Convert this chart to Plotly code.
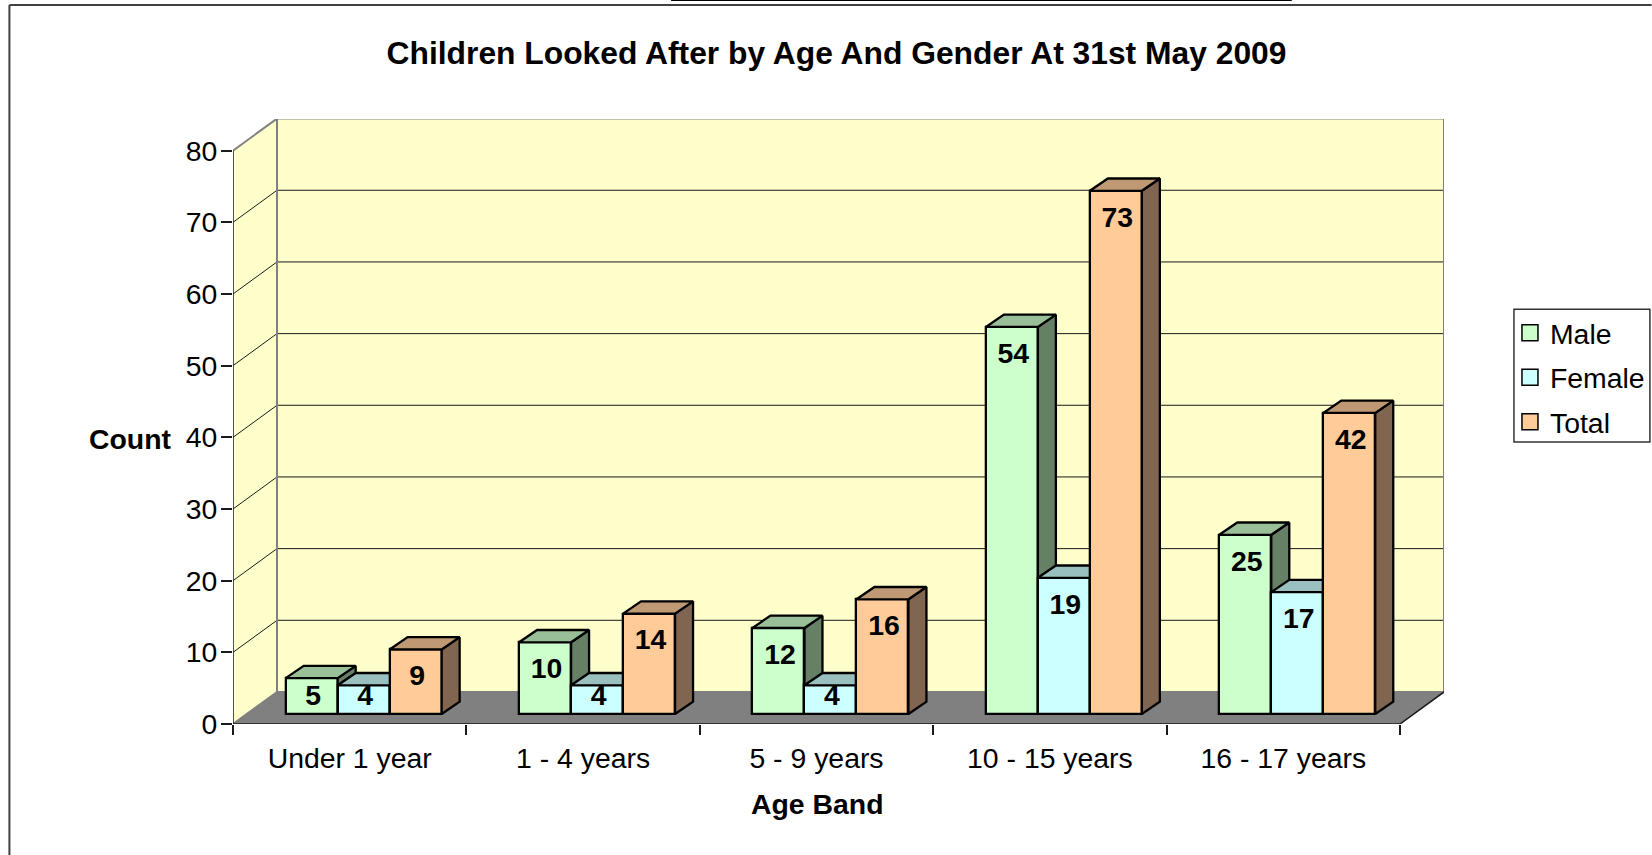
import plotly.graph_objects as go

categories = ["Under 1 year", "1 - 4 years", "5 - 9 years", "10 - 15 years", "16 - 17 years"]
male = [5, 10, 12, 54, 25]
female = [4, 4, 4, 19, 17]
total = [9, 14, 16, 73, 42]
y_ticks = [0, 10, 20, 30, 40, 50, 60, 70, 80]

FONT = "Liberation Sans"
FS = 28.4
W, H = 1652, 855
PL, PR, PT, PB = 232.7, 1444.3, 119.3, 723.7
CAT_PX = 233.46
UNIT_PX = 7.16
N = len(categories)
WX = 44 / CAT_PX
WY = 32 / UNIT_PX
BX0 = 14 / CAT_PX
BY0 = 10 / UNIT_PX
BW = 52 / CAT_PX
GAP = 38.7 / CAT_PX
DX = 18 / CAT_PX
DY = 12.3 / UNIT_PX
XR = [0, N + WX]
YR = [0, (PB - PT) / UNIT_PX]
YMAX = y_ticks[-1]

def px(x):
    return (x - PL) / (PR - PL)

def py(y):
    return (PB - y) / (PB - PT)

fig = go.Figure()

def lines(segments, color, width, xa="x", ya="y"):
    xs, ys = [], []
    for seg in segments:
        xs += [p[0] for p in seg] + [None]
        ys += [p[1] for p in seg] + [None]
    fig.add_trace(go.Scatter(x=xs, y=ys, mode="lines", line=dict(color=color, width=width),
                             cliponaxis=False, showlegend=False, hoverinfo="skip", xaxis=xa, yaxis=ya))

# walls and floor
shapes = [
    dict(type="path", xref="x", yref="y", layer="below", line_width=0, fillcolor="#FFFFCC",
         path=f"M0,0 L{WX},{WY} L{N+WX},{WY} L{N+WX},{YMAX+WY} L{WX},{YMAX+WY} L0,{YMAX} Z"),
    dict(type="path", xref="x", yref="y", layer="below", line_width=0, fillcolor="#808080",
         path=f"M0,0 L{WX},{WY} L{N+WX},{WY} L{N},0 Z"),
    # page frame
    dict(type="line", xref="paper", yref="paper", x0=px(9), x1=px(W), y0=py(5.5), y1=py(5.5),
         line=dict(color="#404040", width=2)),
    dict(type="line", xref="paper", yref="paper", x0=px(9), x1=px(9), y0=py(5.5), y1=py(H),
         line=dict(color="#404040", width=2)),
    dict(type="line", xref="paper", yref="paper", x0=px(671), x1=px(1292), y0=py(0.5), y1=py(0.5),
         line=dict(color="black", width=2)),
    # legend box
    dict(type="rect", xref="paper", yref="paper", x0=px(1514.3), x1=px(1650.3), y0=py(309.3), y1=py(442),
         line=dict(color="#333333", width=1.5), fillcolor="white"),
]

# gridlines
lines([[(0, v), (WX, v + WY), (N + WX, v + WY)] for v in y_ticks[1:-1]], "#1a1a1a", 1)
# wall borders
lines([[(0, 0), (WX, WY), (WX, YMAX + WY), (N + WX, YMAX + WY), (N + WX, WY), (WX, WY)],
       [(0, YMAX), (WX, YMAX + WY)]], "#808080", 2)
# axes lines
lines([[(0, 0), (0, YMAX)], [(0, 0), (N, 0), (N + WX, WY)]], "#1a1a1a", 1.5)

# legend entries
series = [
    ("Male", male, "#CCFFCC", "#99BF99", "#668066", 0),
    ("Female", female, "#CCFFFF", "#99BFBF", "#668080", 1),
    ("Total", total, "#FFCC99", "#BF9973", "#806650", 2),
]

for name, vals, front, top, side, k in series:
    sfx = str(k + 2)
    xa, ya = "x" + sfx, "y" + sfx
    lefts = [i + BX0 + GAP + k * BW for i in range(N)]
    fig.add_trace(go.Bar(x=[l + BW / 2 for l in lefts], y=vals, base=BY0, width=BW, name=name,
                         marker=dict(color=front, line=dict(color="black", width=2.3)),
                         showlegend=False, hoverinfo="skip", xaxis=xa, yaxis=ya))
    tx, ty, sx, sy = [], [], [], []
    for l, v in zip(lefts, vals):
        h = BY0 + v
        tx += [l, l + DX, l + BW + DX, l + BW, l, None]
        ty += [h, h + DY, h + DY, h, h, None]
        sx += [l + BW, l + BW + DX, l + BW + DX, l + BW, l + BW, None]
        sy += [BY0, BY0 + DY, h + DY, h, BY0, None]
    for fx, fy, col in ((sx, sy, side), (tx, ty, top)):
        fig.add_trace(go.Scatter(x=fx, y=fy, mode="lines", fill="toself", fillcolor=col,
                                 line=dict(color="black", width=2.3), showlegend=False,
                                 hoverinfo="skip", xaxis=xa, yaxis=ya))
    fig.add_trace(go.Scatter(x=[l + BW / 2 + 1.5 / CAT_PX for l in lefts],
                             y=[BY0 + max(v - 4.0, 2.2) for v in vals],
                             text=[str(v) for v in vals], mode="text", textposition="middle center",
                             textfont=dict(family=FONT, size=FS, color="black", weight="bold"),
                             showlegend=False, hoverinfo="skip", xaxis=xa, yaxis=ya))
    fig.add_trace(go.Scatter(x=[None], y=[None], mode="markers", name=name, legendgroup=name,
                             marker=dict(symbol="square", size=16, color=front,
                                         line=dict(color="black", width=1.5))))

layout_axes = {}
for k in (2, 3, 4):
    layout_axes[f"xaxis{k}"] = dict(overlaying="x", range=XR, visible=False, anchor=f"y{k}", fixedrange=True)
    layout_axes[f"yaxis{k}"] = dict(overlaying="y", range=YR, visible=False, anchor=f"x{k}", fixedrange=True)

fig.update_layout(
    width=W, height=H, autosize=False,
    margin=dict(l=PL, r=W - PR, t=PT, b=H - PB, pad=0, autoexpand=False),
    paper_bgcolor="white", plot_bgcolor="rgba(0,0,0,0)",
    font=dict(family=FONT, size=FS, color="black"),
    bargap=0,
    title=dict(text="<b>Children Looked After by Age And Gender At 31st May 2009</b>",
               x=836.5 / W, xanchor="center", y=1 - 53 / H, yanchor="middle",
               font=dict(family=FONT, size=31.8, color="black")),
    xaxis=dict(range=XR, showgrid=False, zeroline=False, showline=False, fixedrange=True,
               tickmode="array", tickvals=[i + 0.5 for i in range(N)], ticktext=categories,
               ticks="outside", ticklen=10, tickcolor="rgba(0,0,0,0)", ticklabelstandoff=-1,
               minor=dict(tickmode="array", tickvals=list(range(N + 1)), ticks="outside",
                          ticklen=10, tickwidth=1.5, tickcolor="#1a1a1a", showgrid=False),
               tickfont=dict(family=FONT, size=FS)),
    yaxis=dict(range=YR, showgrid=False, zeroline=False, showline=False, fixedrange=True,
               tickmode="array", tickvals=y_ticks, ticks="outside", ticklen=11, tickwidth=1.5,
               ticklabelstandoff=-2,
               tickcolor="#1a1a1a", tickfont=dict(family=FONT, size=FS)),
    legend=dict(x=px(1510.3), xanchor="left", y=py(308), yanchor="top", bgcolor="rgba(0,0,0,0)",
                borderwidth=0, tracegroupgap=4.5, traceorder="grouped",
                font=dict(family=FONT, size=FS)),
    shapes=shapes,
    annotations=[
        dict(text="<b>Count</b>", xref="paper", yref="paper", x=px(130), y=py(439), showarrow=False,
             xanchor="center", yanchor="middle", font=dict(family=FONT, size=FS)),
        dict(text="<b>Age Band</b>", xref="paper", yref="paper", x=px(817.5), y=py(804), showarrow=False,
             xanchor="center", yanchor="middle", font=dict(family=FONT, size=FS)),
    ],
    **layout_axes,
)

fig.write_html("out.html", config={"displayModeBar": False},
               post_script="document.body.style.margin='0';document.body.style.overflow='hidden';")
